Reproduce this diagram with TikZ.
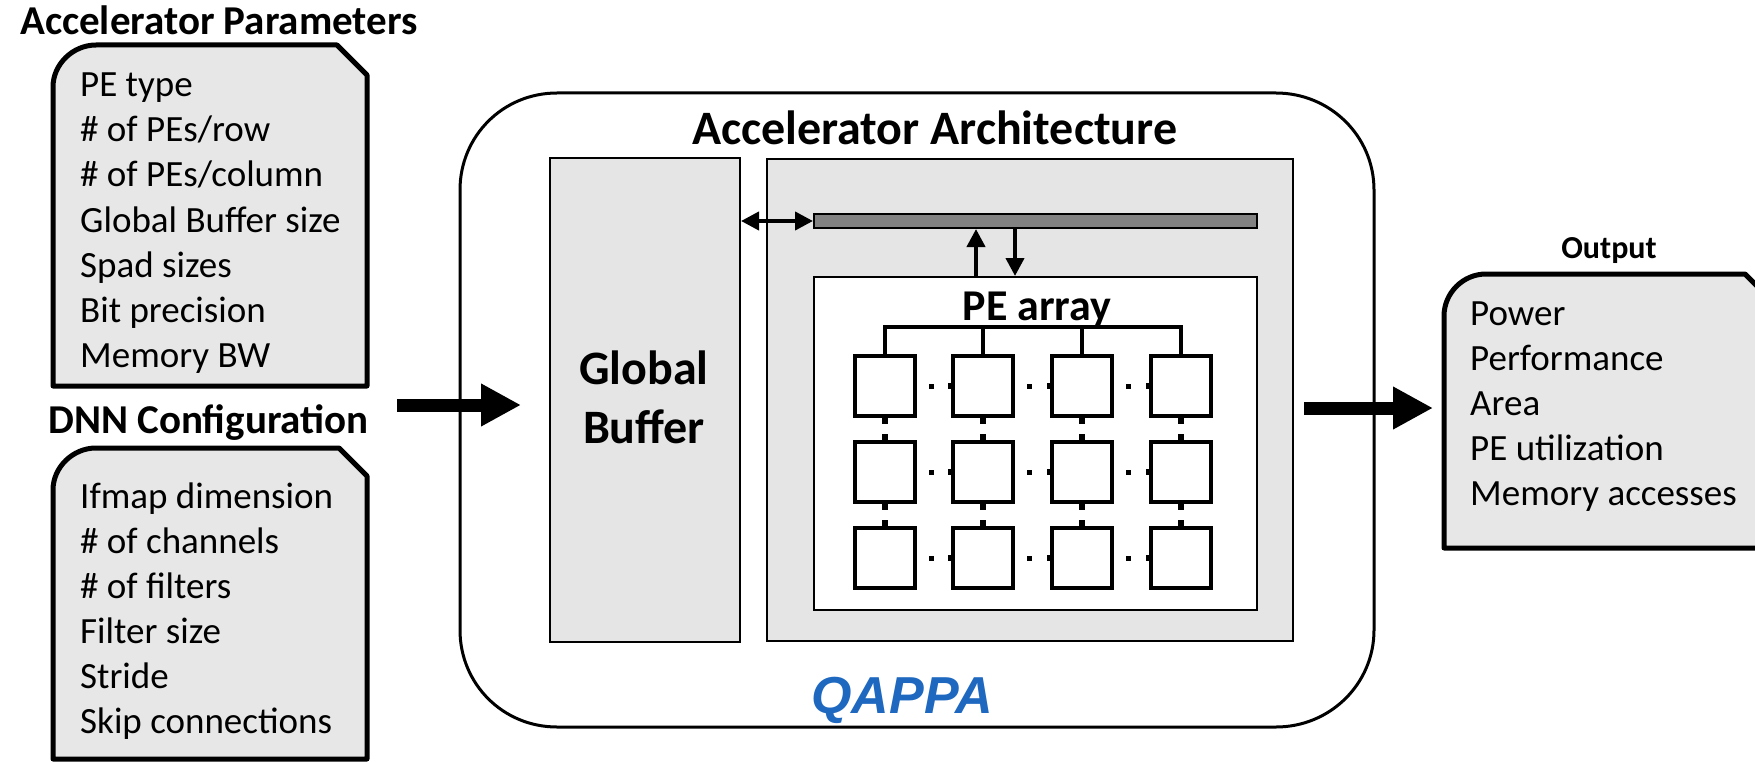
\documentclass[tikz,border=0pt]{standalone}
\usepackage{fontspec}
\setmainfont{Carlito}
\newfontfamily\arialfont{Liberation Sans}
\usetikzlibrary{arrows.meta,calc}
\definecolor{boxgray}{RGB}{231,231,231}
\definecolor{archgray}{RGB}{229,229,229}
\definecolor{busgray}{RGB}{130,130,130}
\definecolor{qblue}{RGB}{30,104,192}
\tikzset{
  inbox/.style={draw=black, line width=5pt, fill=boxgray, line join=round},
  body/.style={font=\fontsize{37}{45}\selectfont, inner sep=0pt, anchor=base west},
  title/.style={font=\fontsize{41}{49}\selectfont\bfseries, inner sep=0pt, anchor=base west},
  bigtitle/.style={font=\fontsize{48}{58}\selectfont\bfseries, inner sep=0pt, anchor=base},
  archbox/.style={draw=black, line width=2pt, fill=archgray},
  pebox/.style={draw=black, line width=4pt, fill=white, minimum width=60pt, minimum height=60pt, inner sep=0pt},
  stub/.style={fill=black, inner sep=0pt, minimum size=6pt},
  pdot/.style={fill=black, inner sep=0pt, minimum size=5pt},
  bigarrow/.style={line width=13pt, -{Triangle[length=40pt,width=40pt]}},
  smallarrow/.style={line width=4pt, -{Triangle[length=18pt,width=18pt]}},
  dblarrow/.style={line width=4pt, {Triangle[length=18pt,width=18pt]}-{Triangle[length=18pt,width=18pt]}},
}
\begin{document}
\begin{tikzpicture}[x=1pt,y=-1pt]
\useasboundingbox (0,0) rectangle (1755,762);

% ---------- input boxes ----------
\node[title] (aptitle) at (20,35) {Accelerator Parameters};
\draw[inbox] (53,386) -- (53,87) .. controls (53,64) and (73,45) .. (96,45) -- (337,45) -- (367,75) -- (367,386) -- cycle;
\foreach \t [count=\i] in {PE type,\# of PEs/row,\# of PEs/column,Global Buffer size,Spad sizes,Bit precision,Memory BW}
  \node[body] (ap\i) at (80,52+45*\i) {\t};

\node[title] (dnntitle) at (48,433) {DNN Configuration};
\draw[inbox] (53,759) -- (53,490) .. controls (53,467) and (73,448) .. (96,448) -- (339,448) -- (367,476) -- (367,759) -- cycle;
\foreach \t [count=\i] in {Ifmap dimension,\# of channels,\# of filters,Filter size,Stride,Skip connections}
  \node[body] (dn\i) at (80,463+45*\i) {\t};

% ---------- main container ----------
\draw[line width=3pt, fill=white] (460,630) -- (460,190) .. controls (460,136) and (503,93) .. (557,93)
  -- (1276,93) .. controls (1330,93) and (1374,136) .. (1374,190) -- (1374,630)
  .. controls (1374,684) and (1330,727) .. (1276,727) -- (557,727) .. controls (503,727) and (460,684) .. (460,630) -- cycle;

\node[bigtitle, anchor=base west] (archtitle) at (692,145) {Accelerator Architecture};

% global buffer
\node[archbox, minimum width=190pt, minimum height=484pt, inner sep=0pt] (gb) at (645,400) {};
\node[bigtitle] (gbt1) at (644,384) {Global};
\node[bigtitle] (gbt2) at (644,443) {Buffer};

% right grey box
\node[archbox, minimum width=526pt, minimum height=482pt, inner sep=0pt] (arch) at (1029.5,400) {};

% bus bar
\node[draw=black, line width=2pt, fill=busgray, minimum width=443pt, minimum height=14pt, inner sep=0pt] (bus) at (1035.5,221) {};

% PE array box
\node[draw=black, line width=2pt, fill=white, minimum width=443pt, minimum height=333pt, inner sep=0pt] (pea) at (1035.5,443.5) {};
\node[font=\fontsize{44}{52}\selectfont\bfseries, inner sep=0pt, anchor=base] (peat) at (1037,320) {PE array};

% arrows between buffer, bus and PE array
\draw[dblarrow] (gb.east |- bus.west) -- (bus.west);
\draw[smallarrow] ([xshift=-59.5pt]pea.north) -- ([xshift=-59.5pt]pea.north |- bus.south);
\draw[smallarrow] ([xshift=-20.5pt]bus.south) -- ([xshift=-20.5pt]pea.north);

% PE grid
\foreach \c/\x in {1/885,2/983,3/1082,4/1181}{
  \foreach \r/\y in {1/386,2/472,3/558}{
    \node[pebox] (pe\c\r) at (\x,\y) {};
  }
}
% tree
\draw[line width=4pt, line cap=rect] (pe11.north |- 0,327) -- (pe41.north |- 0,327);
\foreach \c in {1,2,3,4}
  \draw[line width=4pt] (pe\c1.north |- 0,327) -- (pe\c1.north);

% stubs and dots
\foreach \c in {1,2,3,4}{
  \foreach \r in {1,2}
    \node[stub] (sb\c\r) at ([yshift=-3pt]pe\c\r.south) {};
  \foreach \r in {2,3}
    \node[stub] (st\c\r) at ([yshift=3pt]pe\c\r.north) {};
}
\foreach \c/\p in {2/1,3/2,4/3}{
  \foreach \r in {1,2,3}{
    \node[stub] (sl\c\r) at (pe\c\r.west) {};
    \node[pdot] (dt\c\r) at ($(pe\p\r.east)!0.42!(pe\c\r.west)$) {};
  }
}

% QAPPA
\node[font=\arialfont\fontsize{52}{60}\selectfont\bfseries\itshape, text=qblue, inner sep=0pt, anchor=base] (qappa) at (902,713) {QAPPA};

% ---------- output ----------
\node[font=\fontsize{32}{38}\selectfont\bfseries, inner sep=0pt, anchor=base] (outtitle) at (1609,258) {Output};
\draw[inbox] (1444,548) -- (1444,316) .. controls (1444,293) and (1463,274) .. (1486,274) -- (1745,274) -- (1775,304) -- (1775,548) -- cycle;
\foreach \t [count=\i] in {Power,Performance,Area,PE utilization,Memory accesses}
  \node[body] (op\i) at (1470,280+45*\i) {\t};

% ---------- big arrows ----------
\coordinate (inA) at (397,405);
\coordinate (inB) at (521,405);
\draw[bigarrow] (inA) -- (inB);
\coordinate (outA) at (1304,408);
\coordinate (outB) at (1433,408);
\draw[bigarrow] (outA) -- (outB);
\end{tikzpicture}
\end{document}
